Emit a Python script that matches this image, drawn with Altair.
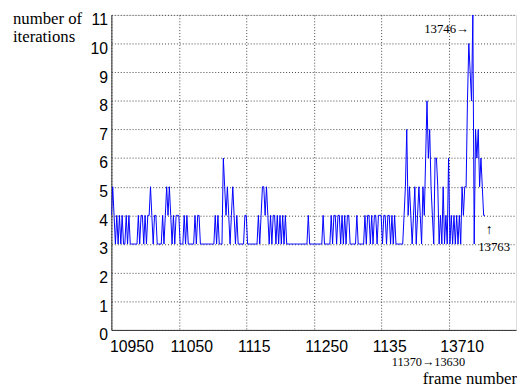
import altair as alt
import pandas as pd

# Iteration counts, sampled every 2 frames, per frame segment
seg_10950 = [4, 5, 4, 3, 4, 3, 4, 3, 4, 3, 3, 4, 3, 4,
             3, 3, 3, 3, 3, 3,
             4, 3, 4, 4, 3, 4, 3, 4, 4, 5, 4, 3, 4, 4, 3, 3, 3, 3, 4, 3,
             4, 5, 4, 5, 4, 3, 4, 3, 4, 4]
seg_11050 = [4, 3, 3, 3, 4, 3, 4, 3, 3, 3, 3, 3, 4, 3, 4, 4,
             3, 3, 3, 3, 3, 3, 3, 3, 3, 3, 3,
             4, 3, 4, 3, 3, 3, 6, 5, 4, 5, 4, 3, 4, 5, 4, 3, 4, 3, 3, 3,
             3, 3, 4]
seg_11150 = [4, 3, 3, 3, 3, 3, 3, 3, 3, 4, 3, 4, 5, 5, 4, 5, 4,
             3, 4, 3, 4, 4, 3, 4, 3, 4, 3, 4, 3, 4,
             3, 3, 3, 3, 3, 3, 3, 3, 3, 3, 3, 3, 3, 3, 3, 3,
             4, 3, 3, 3]
seg_11250 = [3, 3, 3, 3, 3, 3, 3, 4, 3, 3, 3, 3, 3,
             4, 3, 4, 4, 3, 4, 4, 3, 4, 3, 4, 3, 4,
             4, 3, 3, 3, 3, 3, 4, 3, 3, 3, 3, 3,
             4, 3, 4, 4, 3, 4, 3, 4, 4, 3, 4, 4]
seg_11350 = [4, 3, 4, 4, 3, 4, 4, 3, 4, 3]
seg_13630 = [4, 3, 3, 3, 3, 3, 3, 4, 5, 7, 4, 5, 4, 3, 4, 5, 3, 4, 5, 4,
             3, 5, 4, 6, 8, 6, 7, 5, 4, 3, 6, 6, 5, 3, 4, 3, 5, 3, 4, 3]
seg_13710 = [6, 3, 4, 3, 4, 3, 4, 3, 4, 3, 5, 4, 5, 5, 8, 10, 9, 8, 11, 3,
             7, 6, 7, 5, 6, 5, 4, 4]

segments = [(10950, seg_10950), (11050, seg_11050), (11150, seg_11150),
            (11250, seg_11250), (11350, seg_11350), (13630, seg_13630),
            (13710, seg_13710)]

tick_positions = [0, 100, 200, 300, 400, 500]
tick_labels = ["10950", "11050", "1115", "11250", "1135", "13710"]
y_ticks = [0, 1, 2, 3, 4, 5, 6, 7, 8, 9, 10, 11]


def frame_to_idx(f):
    return f - 10950 if f <= 11370 else f - 13630 + 420


rows = []
for start, vals in segments:
    for i, v in enumerate(vals):
        f = start + 2 * i
        rows.append({"frame": f, "idx": frame_to_idx(f), "value": v})
df = pd.DataFrame(rows)

label_expr = "[" + ",".join("'%s'" % t for t in tick_labels) + "][datum.value/100]"

xscale = alt.Scale(domain=[0, 600], nice=False, zero=False)
yscale = alt.Scale(domain=[0, 11], nice=False)

grid_kw = dict(grid=True, gridDash=[1, 2], gridColor="#444", gridWidth=1,
               domainColor="#333", ticks=False, labelColor="#000",
               labelFont="Liberation Sans", labelFontSize=16,
               labelOverlap=False, labelFlush=False)

x_axis = alt.Axis(values=tick_positions, labelExpr=label_expr, title=None,
                  labelAlign="left", labelBaseline="top", labelPadding=9,
                  labelOffset={"condition": {"test": "datum.value === 0", "value": -2},
                               "value": -9},
                  **grid_kw)
y_axis = alt.Axis(values=y_ticks, title=None, labelPadding=4, labelOffset=5, **grid_kw)


def X():
    return alt.X("idx:Q", scale=xscale, axis=x_axis)


def Y():
    return alt.Y("value:Q", scale=yscale, axis=y_axis)


line = alt.Chart(df).mark_line(color="#0000ff", strokeWidth=1, clip=True).encode(x=X(), y=Y())

ann = pd.DataFrame([
    {"idx": frame_to_idx(13746), "value": 10.38, "text": "13746\u2192"},
])
ann_r = alt.Chart(ann).mark_text(align="right", baseline="alphabetic", dx=-4,
                                 font="Liberation Serif", fontSize=13, color="#000").encode(
    x=X(), y=Y(), text="text:N")

ann2 = pd.DataFrame([
    {"idx": frame_to_idx(13763), "value": 3.47, "text": "\u2191"},
])
ann_up = alt.Chart(ann2).mark_text(align="center", baseline="middle", dx=5,
                                   font="Liberation Serif", fontSize=14, color="#000").encode(
    x=X(), y=Y(), text="text:N")

ann3 = pd.DataFrame([
    {"idx": frame_to_idx(13763), "value": 2.75, "text": "13763"},
])
ann_lbl = alt.Chart(ann3).mark_text(align="center", baseline="alphabetic", dx=10,
                                    font="Liberation Serif", fontSize=13, color="#000").encode(
    x=X(), y=Y(), text="text:N")

one = pd.DataFrame({"k": [0]})

ytitle = alt.Chart(one).mark_text(align="left", baseline="alphabetic", font="Liberation Serif",
                                  fontSize=17, lineHeight=19, color="#000").encode(
    x=alt.value(-100), y=alt.value(9), text=alt.value(["number of", "iterations"]))

jump = alt.Chart(one).mark_text(align="center", baseline="alphabetic", font="Liberation Serif",
                                fontSize=12.5, color="#000").encode(
    x=alt.value(322), y=alt.value(357), text=alt.value("11370\u219213630"))

xtitle = alt.Chart(one).mark_text(align="right", baseline="alphabetic", font="Liberation Serif",
                                  fontSize=17, color="#000").encode(
    x=alt.value(412), y=alt.value(375), text=alt.value("frame number"))

chart = alt.layer(line, ann_r, ann_up, ann_lbl, ytitle, jump, xtitle).properties(
    width=411, height=320,
    autosize=alt.AutoSizeParams(type="none"),
    padding={"left": 105, "top": 4, "right": 1, "bottom": 58},
).configure_view(stroke="#333", strokeWidth=1).configure(background="white")

chart.save("out.html", embed_options={"renderer": "svg", "actions": False})
